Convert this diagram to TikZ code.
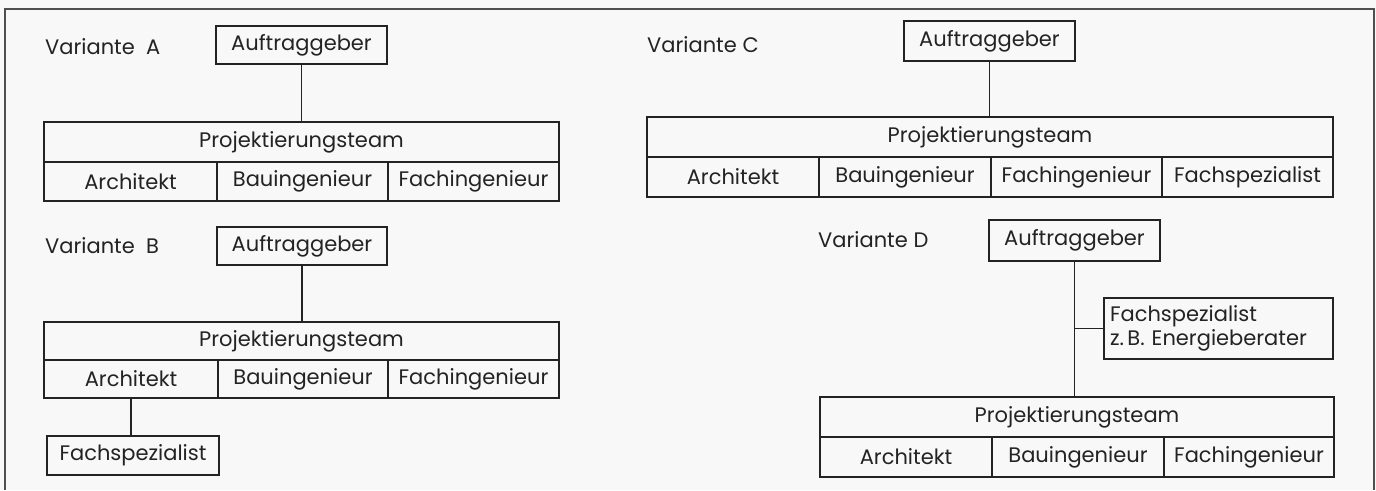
\documentclass[tikz,border=0pt]{standalone}
\usepackage{fontspec}
\setmainfont{Poppins}
\definecolor{ink}{RGB}{35,35,35}
\definecolor{paper}{RGB}{248,248,248}
\begin{document}
\begin{tikzpicture}[x=1pt,y=-1pt,
  every node/.style={font=\fontsize{21}{24}\selectfont, text=ink},
  box/.style={draw=ink, line width=1.5pt, rectangle, inner sep=0pt, align=center},
  lab/.style={anchor=west, inner sep=0pt},
  conn/.style={draw=ink, line width=1.5pt},
  frame/.style={draw=ink!80, line width=1.2pt}]
\useasboundingbox (0,0) rectangle (1376,490);
\fill[paper] (0,0) rectangle (1376,490);
\draw[frame] (5,490) -- (5,9) -- (1374,9) -- (1374,490);

% Variante A
\node[lab] (labA) at (45,47) {Variante\ \ A};
\node[box, minimum width=171pt, minimum height=38pt] (aufA) at (301.5,45) {Auftraggeber};
\node[box, minimum width=515pt, minimum height=40pt] (hdrA) at (301.5,142) {Projektierungsteam};
\node[box, minimum width=173pt, minimum height=39pt] (archA) at (130.5,181.5) {Architekt};
\node[box, minimum width=171pt, minimum height=39pt] (bauA) at (302.5,181.5) {Bauingenieur};
\node[box, minimum width=171pt, minimum height=39pt] (fachA) at (473.5,181.5) {Fachingenieur};
\draw[conn] (aufA.south) -- (aufA.south |- hdrA.north);

% Variante B
\node[lab] (labB) at (45,246) {Variante\ \ B};
\node[box, minimum width=170pt, minimum height=38pt] (aufB) at (302,246) {Auftraggeber};
\node[box, minimum width=515pt, minimum height=38pt] (hdrB) at (301.5,341) {Projektierungsteam};
\node[box, minimum width=174pt, minimum height=38pt] (archB) at (131,379) {Architekt};
\node[box, minimum width=170pt, minimum height=38pt] (bauB) at (303,379) {Bauingenieur};
\node[box, minimum width=171pt, minimum height=38pt] (fachB) at (473.5,379) {Fachingenieur};
\node[box, minimum width=172pt, minimum height=39pt] (fsB) at (133,455.5) {Fachspezialist};
\draw[conn] (aufB.south) -- (aufB.south |- hdrB.north);
\draw[conn] (archB.south) -- (archB.south |- fsB.north);

% Variante C
\node[lab] (labC) at (647,45) {Variante C};
\node[box, minimum width=171pt, minimum height=40pt] (aufC) at (989.5,41) {Auftraggeber};
\node[box, minimum width=686pt, minimum height=40pt] (hdrC) at (990,137) {Projektierungsteam};
\node[box, minimum width=172pt, minimum height=40pt] (archC) at (733,177) {Architekt};
\node[box, minimum width=172pt, minimum height=40pt] (bauC) at (905,177) {Bauingenieur};
\node[box, minimum width=171pt, minimum height=40pt] (fachC) at (1076.5,177) {Fachingenieur};
\node[box, minimum width=171pt, minimum height=40pt] (fsC) at (1247.5,177) {Fachspezialist};
\draw[conn] (aufC.south) -- (aufC.south |- hdrC.north);

% Variante D
\node[lab] (labD) at (818,240) {Variante D};
\node[box, minimum width=171pt, minimum height=41pt] (aufD) at (1074.5,240.5) {Auftraggeber};
\node[box, minimum width=229pt, minimum height=61pt, align=left, text width=217pt] (fsD) at (1218.5,328.5) {Fachspezialist\\z.\,B. Energieberater};
\node[box, minimum width=514pt, minimum height=40pt] (hdrD) at (1077,417) {Projektierungsteam};
\node[box, minimum width=172pt, minimum height=40pt] (archD) at (906,457) {Architekt};
\node[box, minimum width=172pt, minimum height=40pt] (bauD) at (1078,457) {Bauingenieur};
\node[box, minimum width=170pt, minimum height=40pt] (fachD) at (1249,457) {Fachingenieur};
\coordinate (bD) at (aufD.south |- fsD.west);
\draw[conn] (aufD.south) -- (aufD.south |- hdrD.north);
\draw[conn] (bD) -- (fsD.west);
\end{tikzpicture}
\end{document}
